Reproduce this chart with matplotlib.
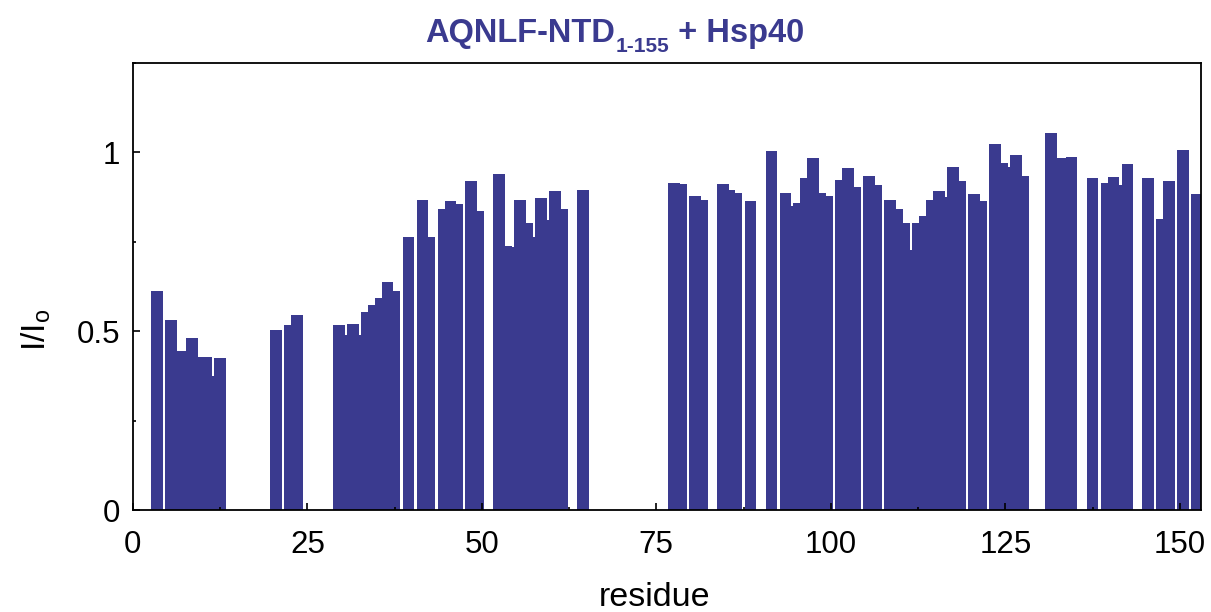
import matplotlib
matplotlib.use("Agg")
import matplotlib.pyplot as plt
from matplotlib import font_manager
from matplotlib.ticker import MultipleLocator
import numpy as np

# --- data ---
residues = [4, 6, 7, 8, 9, 10, 11, 12, 13,
            21, 23, 24,
            30, 31, 32, 33, 34, 35, 36, 37, 38, 40, 42, 43, 45, 46, 47, 49, 50,
            53, 54, 55, 56, 57, 58, 59, 60, 61, 62, 65,
            78, 79, 81, 82, 85, 86, 87, 89, 92, 94, 95, 96, 97, 98, 99, 100,
            102, 103, 104, 106, 107, 109, 110, 111, 112, 113, 114, 115, 116,
            117, 118, 119, 121, 122, 124, 125, 126, 127, 128,
            132, 133, 134, 135, 138, 140, 141, 142, 143, 146, 148, 149, 151, 153]
ratio = [0.613, 0.532, 0.445, 0.445, 0.480, 0.428, 0.428, 0.376, 0.424,
         0.504, 0.516, 0.544,
         0.518, 0.488, 0.521, 0.488, 0.553, 0.574, 0.593, 0.637, 0.613, 0.762,
         0.867, 0.762, 0.842, 0.863, 0.854, 0.919, 0.837,
         0.939, 0.738, 0.734, 0.867, 0.802, 0.762, 0.871, 0.811, 0.891, 0.842, 0.894,
         0.915, 0.911, 0.879, 0.867, 0.911, 0.895, 0.887, 0.864, 1.004, 0.887,
         0.851, 0.859, 0.928, 0.984, 0.887, 0.879,
         0.923, 0.955, 0.903, 0.934, 0.907, 0.867, 0.842, 0.802, 0.726, 0.802,
         0.822, 0.867, 0.892, 0.875, 0.959, 0.920, 0.882, 0.863,
         1.023, 0.971, 0.959, 0.991, 0.934,
         1.055, 0.983, 0.983, 0.986, 0.927, 0.915, 0.931, 0.907, 0.967,
         0.927, 0.814, 0.920, 1.007, 0.882]
xticks = [0, 25, 50, 75, 100, 125, 150]
yticks = [0, 0.5, 1]
ytick_labels = ["0", "0.5", "1"]

BLUE = "#3a3a8f"

plt.rcParams['font.family'] = ['Liberation Sans', 'DejaVu Sans']
plt.rcParams['mathtext.default'] = 'regular'

# narrow bold face for the title if present
try:
    font_manager.findfont(font_manager.FontProperties(family='Liberation Sans Narrow'),
                          fallback_to_default=False)
    title_family = ['Liberation Sans Narrow', 'Liberation Sans']
except Exception:
    title_family = ['Liberation Sans']

fig = plt.figure(figsize=(12.11, 6.12), dpi=100)
ax = fig.add_axes([0.1097, 0.1665, 0.9915 - 0.1097, 0.8975 - 0.1665])

# taller bars sit on top of their neighbours, as in the original
res = np.array(residues)
val = np.array(ratio)
order = np.argsort(val, kind='stable')
ax.bar(res[order] - 0.5, val[order], width=1.69, color=BLUE, linewidth=0)

ax.set_xlim(0, 153)
ax.set_ylim(0, 1.25)
ax.set_xticks(xticks)
ax.set_xticklabels([str(t) for t in xticks])
ax.set_yticks(yticks)
ax.set_yticklabels(ytick_labels)
ax.xaxis.set_minor_locator(MultipleLocator(12.5))
ax.yaxis.set_minor_locator(MultipleLocator(0.25))
ax.tick_params(which='both', direction='in', top=False, right=False, width=1.2)
ax.tick_params(which='major', length=5, labelsize=22.5)
ax.tick_params(axis='x', which='major', pad=14)
ax.tick_params(axis='y', which='major', pad=9)
ax.tick_params(which='minor', length=2.5)
for sp in ax.spines.values():
    sp.set_linewidth(1.3)

fig.text(655 / 1211, 1 - 597 / 612, 'residue', ha='center', va='center', fontsize=24.5)
fig.text(36 / 1211, 1 - 330 / 612, r'I/I$_{o}$', ha='center', va='center',
         rotation=90, fontsize=24)

# title in pieces so the subscript stays plain text
fig.canvas.draw()
renderer = fig.canvas.get_renderer()
parts = [("AQNLF-NTD", 23.5, 0), ("1-155", 15, -10), (" + Hsp40", 23.5, 0)]
texts = []
for s, size, dy in parts:
    t = fig.text(0, 0, s, fontsize=size, fontweight='bold', color=BLUE,
                 family=title_family, va='baseline')
    texts.append((t, dy))
widths = [t.get_window_extent(renderer).width for t, _ in texts]
total = sum(widths)
x = 615 - total / 2
base = 612 - 42
for (t, dy), w in zip(texts, widths):
    t.set_position((x / 1211, (base + dy) / 612))
    x += w

fig.savefig("out.png", dpi=100)
